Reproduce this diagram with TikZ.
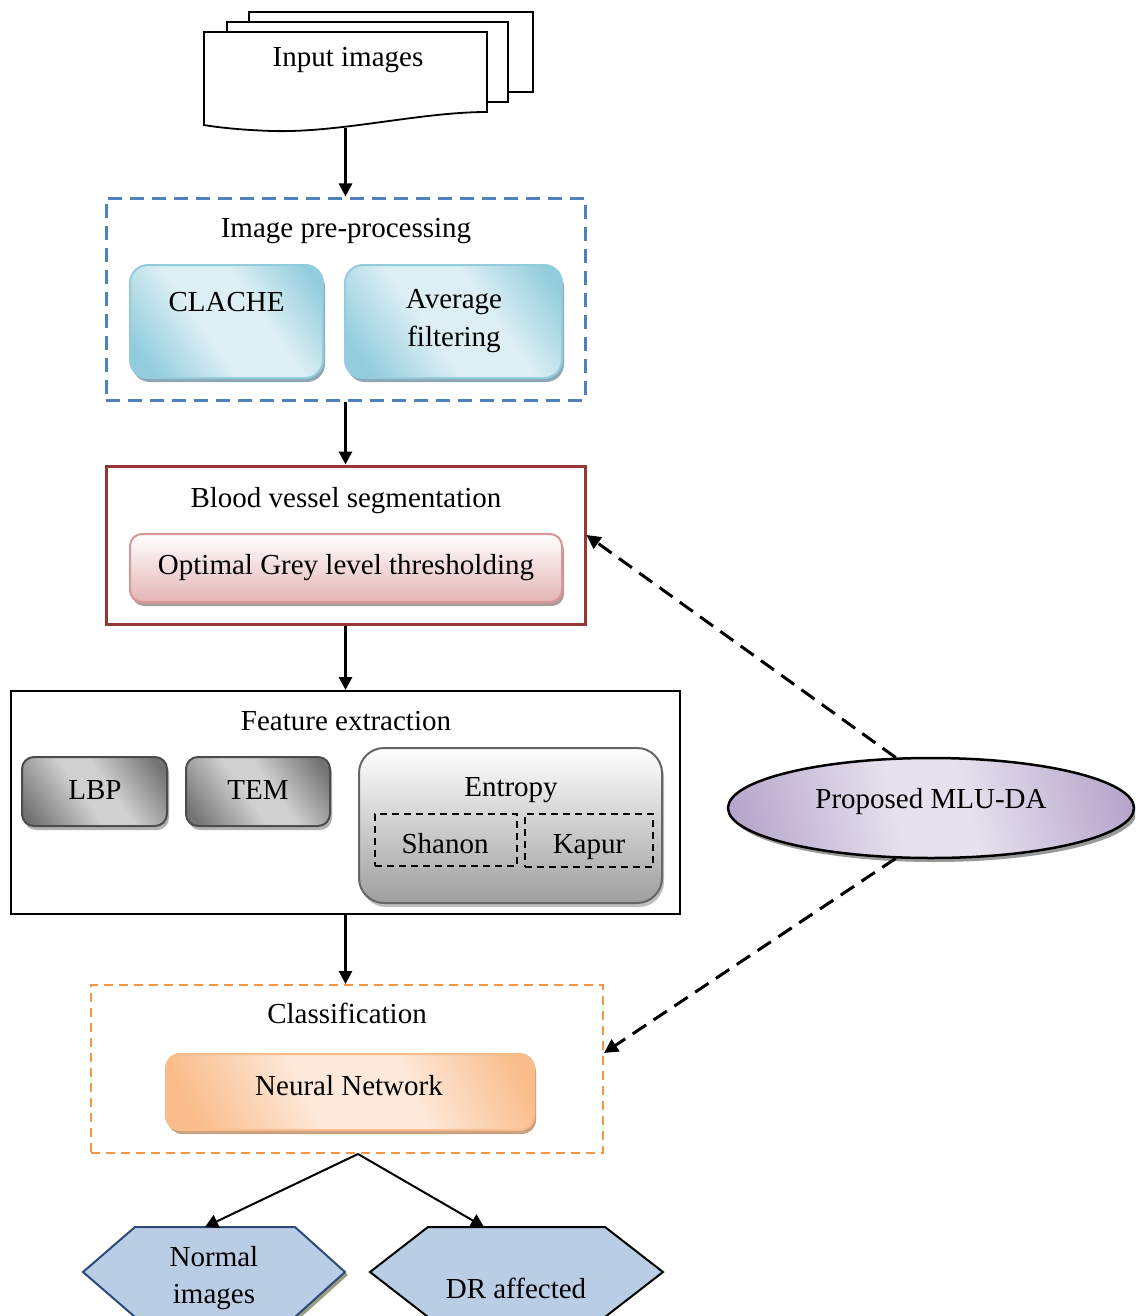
\documentclass[tikz,border=0pt]{standalone}
\usepackage{fontspec}
\setmainfont{Liberation Serif}
\usetikzlibrary{arrows.meta,shapes.geometric,shadows,calc}

\definecolor{preblue}{HTML}{4F81BD}
\definecolor{bvred}{HTML}{953735}
\definecolor{cyandark}{HTML}{93CDDD}
\definecolor{cyanlight}{HTML}{DDEFF4}
\definecolor{cyanshadow}{HTML}{8DA8B4}
\definecolor{pinkline}{HTML}{D99694}
\definecolor{pinkfill}{HTML}{E4B5B4}
\definecolor{pinkshadow}{HTML}{B09C9C}
\definecolor{orgline}{HTML}{F79646}
\definecolor{orgdark}{HTML}{F9BC8A}
\definecolor{orglight}{HTML}{FDE9DA}
\definecolor{orgshadow}{HTML}{C9A17F}
\definecolor{lavdark}{HTML}{B6A6CB}
\definecolor{lavlight}{HTML}{E6E1EE}
\definecolor{greydark}{HTML}{737373}
\definecolor{greylight}{HTML}{D0D0D0}
\definecolor{hexfill}{HTML}{B9CDE5}
\definecolor{hexblue}{HTML}{2A4B7C}
\definecolor{hexshadow}{HTML}{9C9C7E}

% soft diagonal bands: dark ends, broad light middle
\pgfdeclareverticalshading{cyanband}{100bp}{color(0bp)=(cyandark); color(22bp)=(cyandark);
  color(43bp)=(cyanlight); color(60bp)=(cyanlight); color(80bp)=(cyandark); color(100bp)=(cyandark)}
\pgfdeclareverticalshading{greyband}{100bp}{color(0bp)=(greydark); color(20bp)=(greydark);
  color(45bp)=(greylight); color(56bp)=(greylight); color(80bp)=(greydark); color(100bp)=(greydark)}
\pgfdeclareverticalshading{orangeband}{100bp}{color(0bp)=(orgdark); color(22bp)=(orgdark);
  color(43bp)=(orglight); color(60bp)=(orglight); color(80bp)=(orgdark); color(100bp)=(orgdark)}
\pgfdeclareverticalshading{lavband}{100bp}{color(0bp)=(lavdark); color(22bp)=(lavdark);
  color(45bp)=(lavlight); color(55bp)=(lavlight); color(78bp)=(lavdark); color(100bp)=(lavdark)}

\begin{document}
\begin{tikzpicture}[x=1pt,y=-1pt,
  font=\fontsize{29}{34}\selectfont,
  lbl/.style={anchor=base,inner sep=0pt},
  flowarrow/.style={line width=3pt,-{Triangle[length=13pt,width=13pt]}},
  splitarrow/.style={line width=2pt,-{Triangle[length=13pt,width=14pt]}},
  feedback/.style={line width=3pt,dash pattern=on 16pt off 9pt,-{Triangle[length=14pt,width=14pt]}},
  docsheet/.style={draw=black,line width=1.8pt,fill=white},
  frame/.style={rectangle,inner sep=0pt},
  cyanbox/.style={rectangle,rounded corners=18pt,draw=cyandark,line width=2pt,
    shading=cyanband,shading angle=-55,
    drop shadow={shadow xshift=2pt,shadow yshift=-4pt,fill=cyanshadow,opacity=1}},
  greybox/.style={rectangle,rounded corners=12pt,draw=black!70,line width=2pt,
    shading=greyband,shading angle=-55,
    drop shadow={shadow xshift=2pt,shadow yshift=-4pt,fill=black!30,opacity=1}},
  subbox/.style={rectangle,inner sep=0pt,draw=black,line width=2pt,dash pattern=on 7pt off 5pt},
  hexshape/.style={fill=hexfill,line width=2pt,line join=miter}
]
\path[use as bounding box] (0,0) rectangle (1135,1316);
\clip (0,0) rectangle (1135,1316);

% stacked input sheets
\draw[docsheet] (249,12) rectangle (533,92);
\draw[docsheet] (227,22) rectangle (508,102);
\draw[docsheet] (204,32) -- (487,32) -- (487,112)
  .. controls (420,112) and (340,133) .. (272,131)
  .. controls (240,130) and (215,127) .. (204,125) -- cycle;
\node[lbl] (inimg) at (348,67) {Input images};
\coordinate (docb) at (345.5,128);

% image pre-processing
\node[frame,minimum width=479pt,minimum height=202pt,draw=preblue,line width=3pt,
  dash pattern=on 14pt off 8pt] (pre) at (345.5,299) {};
\node[lbl] (pretitle) at (346,237) {Image pre-processing};
\node[cyanbox,minimum width=193pt,minimum height=113pt] (clache) at (226.5,321.5) {};
\node[lbl] (clachet) at (226.5,311) {CLACHE};
\node[cyanbox,minimum width=217pt,minimum height=113pt] (avg) at (453.5,321.5) {};
\node[lbl] (avgt1) at (454,308) {Average};
\node[lbl] (avgt2) at (454,346) {filtering};

% blood vessel segmentation
\node[frame,minimum width=479pt,minimum height=158pt,draw=bvred,line width=3pt] (bvs) at (345.5,545) {};
\node[lbl] (bvst) at (346,507) {Blood vessel segmentation};
\node[rectangle,rounded corners=12pt,draw=pinkline,line width=2pt,top color=white,bottom color=pinkfill,
  drop shadow={shadow xshift=2pt,shadow yshift=-4pt,fill=pinkshadow,opacity=1},
  minimum width=432pt,minimum height=68pt] (ogt) at (346,568) {};
\node[lbl] (ogtt) at (346,574) {Optimal Grey level thresholding};

% feature extraction
\node[frame,minimum width=669pt,minimum height=223pt,draw=black,line width=2pt] (fe) at (345.5,802.5) {};
\node[lbl] (fet) at (346,730) {Feature extraction};
\node[greybox,minimum width=145pt,minimum height=69pt] (lbp) at (94.5,791.5) {};
\node[lbl] (lbpt) at (95,799) {LBP};
\node[greybox,minimum width=144pt,minimum height=69pt] (tem) at (258,791.5) {};
\node[lbl] (temt) at (258,799) {TEM};
\node[rectangle,rounded corners=25pt,draw=black!60,line width=2pt,top color=white,bottom color=black!38,
  drop shadow={shadow xshift=2pt,shadow yshift=-4pt,fill=black!25,opacity=1},
  minimum width=303pt,minimum height=155pt] (ent) at (510.5,825.5) {};
\node[lbl] (entt) at (511,796) {Entropy};
\node[subbox,minimum width=142pt,minimum height=52pt] (sha) at (446,840) {};
\node[lbl] (shat) at (445,853) {Shanon};
\node[subbox,minimum width=128pt,minimum height=53pt] (kap) at (589,840.5) {};
\node[lbl] (kapt) at (589,853) {Kapur};

% classification
\node[frame,minimum width=512pt,minimum height=168pt,draw=orgline,line width=2pt,
  dash pattern=on 9pt off 6pt] (cls) at (347,1069) {};
\node[lbl] (clst) at (347,1023) {Classification};
\node[rectangle,rounded corners=14pt,draw=orgdark,line width=2pt,
  shading=orangeband,shading angle=-65,
  drop shadow={shadow xshift=2pt,shadow yshift=-4pt,fill=orgshadow,opacity=1},
  minimum width=368pt,minimum height=76pt] (nn) at (350,1092) {};
\node[lbl] (nnt) at (349,1095) {Neural Network};

% proposed method
\node[ellipse,inner sep=0pt,draw=black,line width=2.5pt,
  shading=lavband,shading angle=-75,
  drop shadow={shadow xshift=3pt,shadow yshift=-4pt,fill=black!40,opacity=1},
  minimum width=406pt,minimum height=100pt] (mlu) at (931,808) {};
\node[lbl] (mlut) at (931,808) {Proposed MLU-DA};

% output classes
\fill[hexshadow] (86,1275) -- (138,1230) -- (298,1230) -- (348,1275) -- (298,1320) -- (138,1320) -- cycle;
\draw[hexshape,draw=hexblue] (83,1272) -- (135,1227) -- (295,1227) -- (345,1272) -- (295,1317) -- (135,1317) -- cycle;
\node[lbl] (normt1) at (214,1266) {Normal};
\node[lbl] (normt2) at (214,1303) {images};
\draw[hexshape,draw=black] (370,1272) -- (428,1227) -- (605,1227) -- (663,1272) -- (605,1317) -- (428,1317) -- cycle;
\node[lbl] (drt) at (516,1298) {DR affected};
\coordinate (normtop) at (205,1227);
\coordinate (drtop) at (484,1227);

% main flow
\draw[flowarrow] (docb) -- (docb |- pre.north);
\draw[flowarrow] (pre.south) -- (bvs.north);
\draw[flowarrow] (bvs.south) -- (fe.north);
\draw[flowarrow] (fe.south) -- (fe.south |- cls.north);
\coordinate (split) at ([xshift=11pt]cls.south);
\draw[splitarrow] (split) -- (normtop);
\draw[splitarrow] (split) -- (drtop);

% feedback from the proposed method
\draw[feedback] (mlu.125) -- ([yshift=10pt]bvs.east);
\draw[feedback] (mlu.235) -- ([yshift=16pt]cls.east);
\end{tikzpicture}
\end{document}
